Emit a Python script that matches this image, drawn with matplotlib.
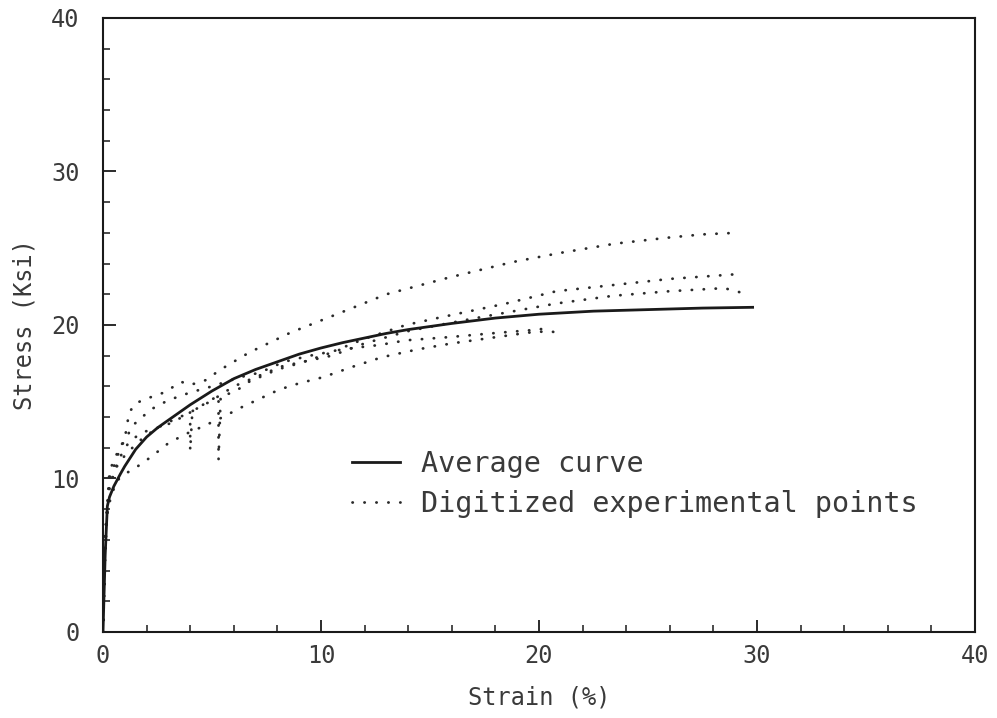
import matplotlib
matplotlib.use("Agg")
import matplotlib.pyplot as plt
from matplotlib.ticker import MultipleLocator

# --- Data ---
avg_strain = [0, 0.1, 0.2, 0.3, 0.5, 0.8, 1.0, 1.5, 2.0, 2.5, 3.0, 3.5, 4.0, 5.0, 6.0,
              7.0, 8.0, 9.0, 10, 11, 12, 13, 14, 15, 16, 18, 20, 22.5, 25, 27.5, 29.8]
avg_stress = [0, 5, 8.2, 8.8, 9.5, 10.3, 10.8, 11.9, 12.7, 13.3, 13.8, 14.3, 14.8, 15.7, 16.5,
              17.1, 17.6, 18.1, 18.5, 18.85, 19.15, 19.45, 19.7, 19.9, 20.1, 20.45, 20.7,
              20.9, 21.0, 21.1, 21.15]

expA_strain = [0, 0.1, 0.3, 0.6, 1.0, 1.2, 1.5, 2.0, 2.8, 3.6, 3.9, 4.3, 4.7, 5.4,
               6.7, 8.6, 10.9, 13, 15.9, 18.8, 21, 23.5, 26, 27.5, 29]
expA_stress = [0, 6, 10.5, 11.5, 12.6, 14.3, 14.9, 15.2, 15.6, 16.3, 16.1, 16.2, 16.4, 17.1,
               18.2, 19.5, 20.8, 22.0, 23.1, 24.1, 24.7, 25.3, 25.7, 25.9, 26.0]

expB_strain = [0, 0.1, 0.3, 0.8, 1.4, 2.2, 3.0, 4.0, 5.0, 6.3, 7.2, 8.3, 9.5, 10.6,
               12, 13.9, 15.5, 18.5, 20.8, 23.4, 26, 29]
expB_stress = [0, 6.5, 10, 12, 13.5, 14.5, 15.1, 15.6, 16.0, 16.6, 16.9, 17.6, 18.0, 18.3,
               19.1, 20.0, 20.5, 21.4, 22.2, 22.6, 23.0, 23.3]

expC_strain = [0, 0.1, 0.3, 0.7, 1.2, 1.8, 2.5, 3.1, 3.5, 4.0, 4.0, 4.1, 4.9, 6.0,
               7.0, 8.2, 9.5, 10.5, 12, 14, 15.8, 17.3, 20.8, 23.4, 26, 28.5, 29.3]
expC_stress = [0, 6, 9.5, 11.2, 12.4, 13.0, 13.3, 13.6, 13.9, 14.3, 11.8, 14.4, 15.0, 16.0,
               16.6, 17.3, 17.7, 18.0, 18.8, 19.6, 20.1, 20.5, 21.4, 21.9, 22.2, 22.4, 22.1]

expD_strain = [0, 0.1, 0.3, 0.7, 1.2, 1.8, 2.5, 3.2, 4.0, 4.7, 5.3, 5.3, 5.4, 6.0,
               6.7, 8.0, 9.0, 10.9, 12.7, 13.9, 15.8, 18.2, 20.0, 20.6]
expD_stress = [0, 6, 9.5, 11, 11.8, 12.6, 13.3, 13.8, 14.3, 14.9, 15.4, 11.2, 15.4, 15.6,
               16.3, 17.1, 17.5, 18.4, 18.7, 19.0, 19.2, 19.5, 19.7, 19.9]

expE_strain = [0, 0.1, 0.2, 0.6, 1.0, 1.4, 2.2, 3.0, 3.8, 4.6, 5.5, 6.3, 7.2, 8.1,
               9.0, 10.1, 11.5, 12.8, 14.4, 16, 18, 19.5, 20.5, 21.1]
expE_stress = [0, 5, 8, 9.8, 10.3, 10.6, 11.4, 12.3, 12.9, 13.4, 14.0, 14.6, 15.2, 15.8,
               16.2, 16.6, 17.3, 17.9, 18.4, 18.8, 19.2, 19.5, 19.6, 19.4]

exp_curves = [(expA_strain, expA_stress), (expB_strain, expB_stress),
              (expC_strain, expC_stress), (expD_strain, expD_stress),
              (expE_strain, expE_stress)]

FONT = "DejaVu Sans Mono"
INK = "#1a1a1a"
TXT = "#3a3a3a"
DOT = "#2a2a2a"
DOT_STYLE = (0, (0.1, 4.2))

fig = plt.figure(figsize=(9.97, 7.18), dpi=100)
ax = fig.add_axes([0.1033, 0.1198, 0.8746, 0.8552])

for i, (xs, ys) in enumerate(exp_curves):
    ax.plot(xs, ys, color=DOT, lw=2.0, linestyle=DOT_STYLE, dash_capstyle="round",
            label="Digitized experimental points" if i == 0 else None)

ax.plot(avg_strain, avg_stress, color=INK, lw=2.0, label="Average curve")

ax.set_xlim(0, 40)
ax.set_ylim(0, 40)
ax.xaxis.set_major_locator(MultipleLocator(10))
ax.xaxis.set_minor_locator(MultipleLocator(2))
ax.yaxis.set_major_locator(MultipleLocator(10))
ax.yaxis.set_minor_locator(MultipleLocator(2))
ax.tick_params(which="both", direction="in", top=False, right=False, color=INK,
               labelcolor=TXT)
ax.tick_params(which="major", length=9, width=1.3)
ax.tick_params(which="minor", length=5, width=1.1)
ax.tick_params(axis="x", which="major", pad=9)
ax.tick_params(axis="y", which="major", pad=17)
for lbl in ax.get_xticklabels() + ax.get_yticklabels():
    lbl.set_fontfamily(FONT)
    lbl.set_fontsize(17)

for spine in ax.spines.values():
    spine.set_linewidth(1.5)
    spine.set_color(INK)

ax.set_xlabel("Strain (%)", fontfamily=FONT, fontsize=17, color=TXT, labelpad=12)
ax.set_ylabel("Stress (Ksi)", fontfamily=FONT, fontsize=17, color=TXT, labelpad=10)

handles, labels = ax.get_legend_handles_labels()
order = [1, 0]
leg = ax.legend([handles[i] for i in order], [labels[i] for i in order],
                loc="center left", bbox_to_anchor=(0.285, 0.241), frameon=False,
                borderpad=0, borderaxespad=0, handlelength=1.7, handletextpad=0.75,
                labelspacing=0.45, prop={"family": FONT, "size": 20.5})
for t in leg.get_texts():
    t.set_color(TXT)

fig.savefig("out.png", dpi=100, facecolor="white")
